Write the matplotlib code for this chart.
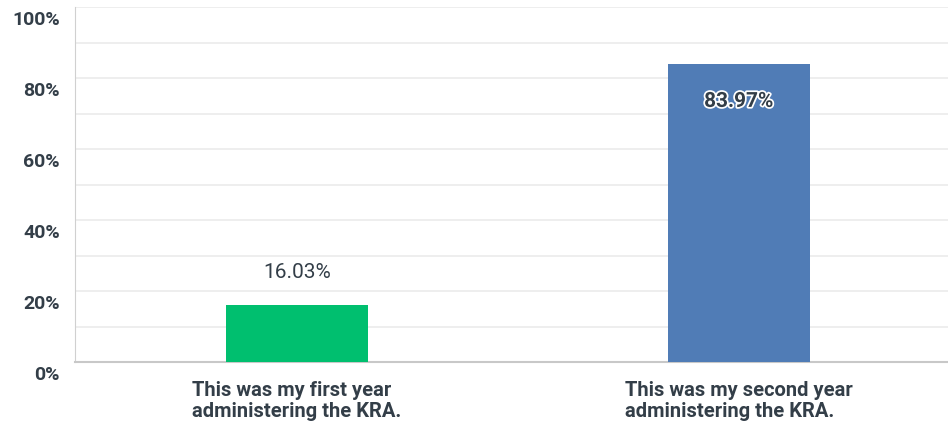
import matplotlib
matplotlib.use("Agg")
import matplotlib.pyplot as plt
import matplotlib.patheffects as pe
import matplotlib.transforms as mtrans
from matplotlib.ticker import MultipleLocator, FuncFormatter

categories = ["This was my first year\nadministering the KRA.",
              "This was my second year\nadministering the KRA."]
values = [16.03, 83.97]
colors = ["#00bf6f", "#507cb6"]

text_col = "#333e48"
plt.rcParams["font.family"] = ["Roboto", "DejaVu Sans"]

fig = plt.figure(figsize=(9.48, 4.35), dpi=100)
ax = fig.add_axes([75/948, 1-363/435, 1-75/948, 355/435])

x = list(range(len(categories)))
bars = ax.bar(x, values, width=0.321, color=colors, zorder=3)

ax.set_xlim(-0.502, 1.473)
ax.set_ylim(0, 100)

ax.yaxis.set_major_locator(MultipleLocator(20))
ax.yaxis.set_minor_locator(MultipleLocator(10))
ax.yaxis.set_major_formatter(FuncFormatter(lambda v, p: f"{v:.0f}%"))
ax.grid(True, which="both", axis="y", color="#ebebeb", lw=1.2, zorder=0)
ax.tick_params(axis="y", which="both", length=0, pad=11, labelsize=14,
               labelcolor=text_col)

ax.set_xticks(x)
ax.set_xticklabels(categories, fontsize=14.5, color=text_col,
                   fontweight="bold", multialignment="left", linespacing=1.1)
ax.tick_params(axis="x", length=0, pad=13)

for s in ["top", "right"]:
    ax.spines[s].set_visible(False)
ax.spines["left"].set_color("#d0d0d0")
ax.spines["bottom"].set_color("#c8c8c8")
ax.spines["bottom"].set_linewidth(1.5)

# value labels
ax.annotate(f"{values[0]:.2f}%", (x[0], values[0]), xytext=(0, 24),
            textcoords="offset points", ha="center", va="center",
            fontsize=15, color=text_col)
ax.annotate(f"{values[1]:.2f}%", (x[1], values[1]), xytext=(0, -27),
            textcoords="offset points", ha="center", va="center",
            fontsize=15, color=text_col, fontweight="bold",
            path_effects=[pe.withStroke(linewidth=2.5, foreground="white")])

# y tick labels sit a little below their gridlines
off = mtrans.ScaledTranslation(0, -7/72, fig.dpi_scale_trans)
for lab in ax.get_yticklabels():
    lab.set_fontweight("bold")
    lab.set_transform(lab.get_transform() + off)

fig.savefig("out.png", dpi=100)
